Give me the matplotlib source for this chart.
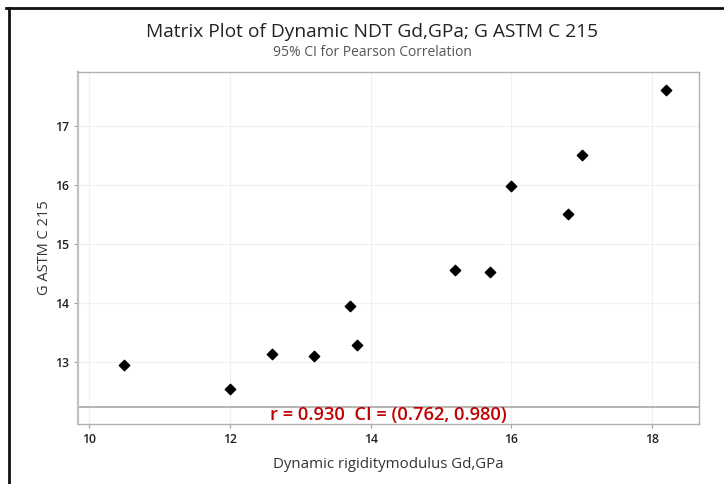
import matplotlib
matplotlib.use("Agg")
import matplotlib.pyplot as plt
from matplotlib.lines import Line2D

gd = [10.5, 12.0, 12.6, 13.2, 13.7, 13.8, 15.2, 15.7, 16.0, 16.8, 17.0, 18.2]
g_astm = [12.94, 12.54, 13.13, 13.10, 13.95, 13.28, 14.56, 14.53, 15.99, 15.51, 16.51, 17.62]
x_ticks = [10, 12, 14, 16, 18]
y_ticks = [13, 14, 15, 16, 17]
title = "Matrix Plot of Dynamic NDT Gd,GPa; G ASTM C 215"
subtitle = "95% CI for Pearson Correlation"
x_label = "Dynamic rigiditymodulus Gd,GPa"
y_label = "G ASTM C 215"
corr_text = "r = 0.930  CI = (0.762, 0.980)"

plt.rcParams['font.family'] = ['Open Sans', 'DejaVu Sans']

fig = plt.figure(figsize=(7.24, 4.84), dpi=100)
ax = fig.add_axes([78/724, 1-424/484, (699.3-78)/724, (424-72)/484])

ax.set_xlim(9.84, 18.67)
ax.set_ylim(11.94, 17.92)
ax.set_xticks(x_ticks)
ax.set_yticks(y_ticks)
ax.grid(True, color='#f0f0f0', linewidth=0.8)
ax.set_axisbelow(True)

ax.scatter(gd, g_astm, marker='D', s=28, color='black', zorder=3)

band_y = 12.23
ax.axhline(band_y, color='#a8a8a8', linewidth=1.2, zorder=2)
ax.text((9.84 + 18.67) / 2, (11.94 + band_y) / 2, corr_text, color='#c00000',
        fontsize=13.2, fontweight='semibold', ha='center', va='center',
        family=['Open Sans', 'DejaVu Sans'])

for side in ['top', 'right', 'bottom', 'left']:
    ax.spines[side].set_color('#b0b0b0')
    ax.spines[side].set_linewidth(1.0)
ax.spines['left'].set_linewidth(1.6)
ax.spines['left'].set_color('#c0c0c0')

ax.tick_params(axis='both', colors='#a0a0a0', labelcolor='#222222', labelsize=8.8, length=3, width=0.8)
for lbl in ax.get_xticklabels() + ax.get_yticklabels():
    lbl.set_fontweight('semibold')

ax.set_xlabel(x_label, fontsize=10.8, color='#333333', labelpad=8)
ax.set_ylabel(y_label, fontsize=10.5, color='#333333', labelpad=2)

fig.text(372/724, 1-32/484, title, fontsize=13.8, color='#222222', ha='center', va='center')
fig.text(372/724, 1-52/484, subtitle, fontsize=10, color='#555555', ha='center', va='center')

# screenshot frame lines (top and left)
fig.add_artist(Line2D([6/724, 1.0], [1-8/484, 1-8/484], transform=fig.transFigure, color='#111111', linewidth=2))
fig.add_artist(Line2D([9/724, 9/724], [0, 1-8/484], transform=fig.transFigure, color='#111111', linewidth=2))

fig.savefig("out.png", dpi=100)
